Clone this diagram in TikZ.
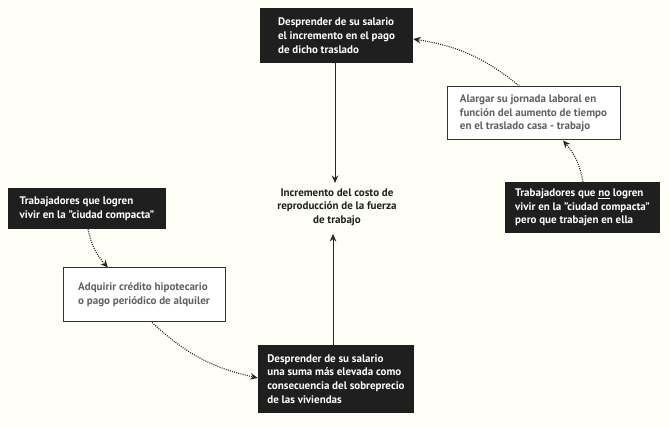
\documentclass[tikz,border=0pt]{standalone}
\usepackage{fontspec}
\setmainfont{PT Sans}[BoldFont=* Bold]
\usetikzlibrary{positioning,arrows.meta}

\begin{document}
\begin{tikzpicture}[
      x=1pt,y=-1pt,
      >={Stealth[length=7.5pt,width=6.5pt]},
      font=\bfseries\fontsize{11}{13.7}\selectfont,
      darkbox/.style={
        fill=black!88,
        text=white,
        align=left,
        inner sep=3pt
      },
      lightbox/.style={
        draw=black!80,
        line width=1pt,
        fill=white,
        text=black!62,
        align=left,
        inner sep=3pt
      },
      flow/.style={
        ->,
        line width=1pt,
        black!85
      },
      flowD/.style={
        ->,
        line width=1.1pt,
        dash pattern=on 1pt off 1.2pt,
        black!85,
        bend right=15
      }
    ]
      \fill[white!97!yellow] (0,0) rectangle (669,427);
      \useasboundingbox (0,0) rectangle (669,427);

      \node[darkbox,minimum width=153pt,minimum height=55pt] (arriba) at (336.5,35.5)
        {Desprender de su salario\\el incremento en el pago\\de dicho traslado};
      \node[align=center,text=black!88] (centro) at (337,207)
        {Incremento del costo de\\reproducción de la fuerza\\de trabajo};
      \node[darkbox,minimum width=156pt,minimum height=68pt] (abajo) at (336,379)
        {Desprender de su salario\\una suma más elevada como\\consecuencia del sobreprecio\\de las viviendas};

      \node[darkbox,minimum width=158pt,minimum height=41pt] (compacta) at (87,208.5)
        {Trabajadores que logren\\vivir en la "ciudad compacta"};
      \node[lightbox,minimum width=162pt,minimum height=54pt] (credito) at (144,295)
        {Adquirir crédito hipotecario\\o pago periódico de alquiler};

      \node[darkbox,minimum width=155pt,minimum height=51pt] (fuera) at (582.5,207.5)
        {Trabajadores que \underline{no} logren\\vivir en la "ciudad compacta"\\pero que trabajen en ella};
      \node[lightbox,minimum width=173pt,minimum height=53pt] (jornada) at (533.5,113.5)
        {Alargar su jornada laboral en\\función del aumento de tiempo\\en el traslado casa - trabajo};

      \draw[flow] (arriba.south -| 335,0) -- (335,183);
      \draw[flow] (abajo.north -| 333,0) -- (333,234);

      \draw[flowD] (compacta.south -| 88,0) to (credito.north -| 108,0);
      \draw[flowD] (credito.south -| 152,0) to (abajo.west |- 0,378);
      \draw[flowD] (fuera.north -| 583,0) to (jornada.south -| 563,0);
      \draw[flowD] (jornada.north -| 520,0) to (arriba.east |- 0,39);
    \end{tikzpicture}
\end{document}
